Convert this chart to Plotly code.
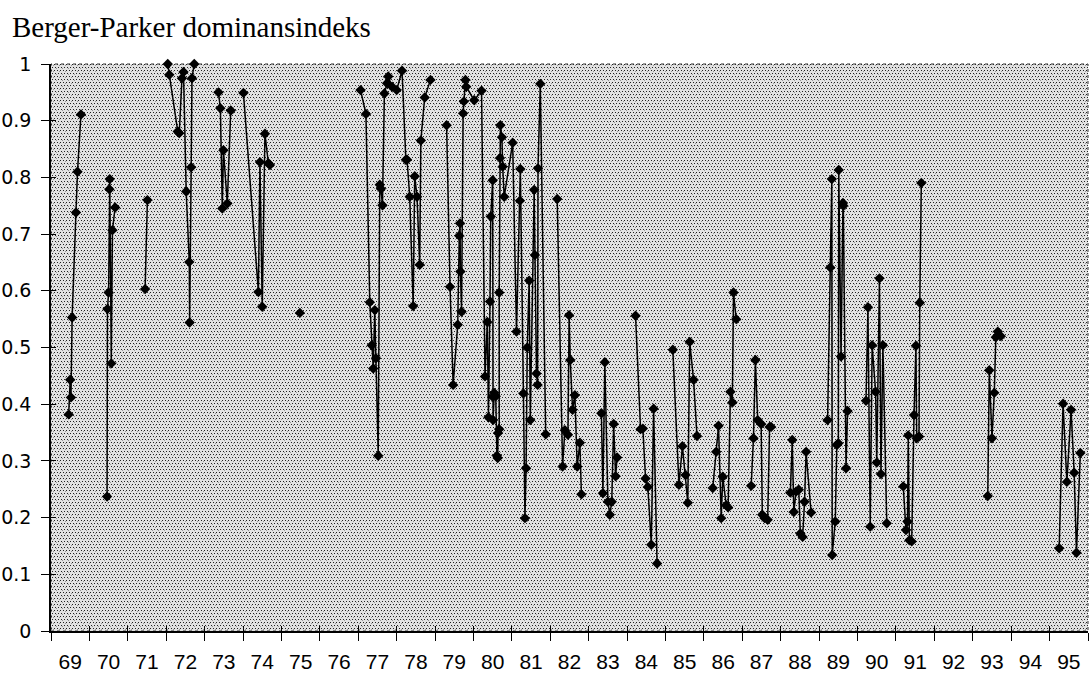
import base64
import plotly.graph_objects as go

# Berger-Parker dominance index per sample, grouped by season.
# x = position on the year axis (year + fraction of the year), y = index value.
x69 = [69.46, 69.50, 69.52, 69.55, 69.65, 69.69, 69.78]
y69 = [0.382, 0.443, 0.412, 0.553, 0.738, 0.810, 0.911]

x70 = [70.46, 70.47, 70.50, 70.52, 70.53, 70.57, 70.60, 70.67]
y70 = [0.237, 0.568, 0.597, 0.779, 0.797, 0.472, 0.707, 0.747]

x71 = [71.45, 71.51]
y71 = [0.603, 0.760]

x72 = [72.04, 72.08, 72.30, 72.34, 72.41, 72.45, 72.52, 72.60, 72.61, 72.65, 72.67, 72.73]
y72 = [1.000, 0.981, 0.881, 0.878, 0.975, 0.986, 0.775, 0.651, 0.544, 0.818, 0.975, 1.000]

x73 = [73.36, 73.41, 73.46, 73.49, 73.59, 73.68]
y73 = [0.950, 0.922, 0.745, 0.848, 0.754, 0.918]

x74 = [74.01, 74.40, 74.44, 74.50, 74.57, 74.66, 74.70]
y74 = [0.949, 0.598, 0.827, 0.572, 0.877, 0.825, 0.822]

x75 = [75.48]
y75 = [0.561]

x77 = [77.06, 77.20, 77.30, 77.35, 77.39, 77.43, 77.46, 77.52, 77.56, 77.59,
       77.63, 77.68, 77.75, 77.78, 77.88, 78.00, 78.14, 78.24, 78.27, 78.34,
       78.43, 78.47, 78.53, 78.60, 78.63, 78.73, 78.88]
y77 = [0.954, 0.912, 0.580, 0.504, 0.463, 0.566, 0.481, 0.309, 0.787, 0.780,
       0.751, 0.948, 0.966, 0.978, 0.960, 0.954, 0.988, 0.831, 0.831, 0.766,
       0.573, 0.802, 0.766, 0.646, 0.865, 0.941, 0.972]

x79 = [79.30, 79.39, 79.47, 79.59, 79.63, 79.65, 79.66, 79.69, 79.73, 79.75,
       79.79, 79.81, 80.02, 80.21, 80.30, 80.36, 80.39, 80.43, 80.45, 80.50,
       80.50, 80.51, 80.54, 80.58, 80.61, 80.63, 80.64, 80.67, 80.67, 80.69,
       80.70, 80.74, 80.76, 80.80, 81.02, 81.12, 81.21, 81.22, 81.30, 81.34,
       81.37, 81.40, 81.45, 81.48, 81.58, 81.60, 81.64, 81.67, 81.68, 81.74,
       81.88]
y79 = [0.892, 0.607, 0.434, 0.540, 0.697, 0.719, 0.634, 0.563, 0.913, 0.934,
       0.972, 0.960, 0.936, 0.953, 0.449, 0.545, 0.377, 0.581, 0.731, 0.795,
       0.413, 0.372, 0.420, 0.414, 0.309, 0.305, 0.349, 0.356, 0.597, 0.834,
       0.892, 0.871, 0.819, 0.766, 0.861, 0.528, 0.759, 0.815, 0.419, 0.199,
       0.287, 0.500, 0.618, 0.372, 0.778, 0.663, 0.454, 0.434, 0.816, 0.965,
       0.347]

x82 = [82.18, 82.32, 82.38, 82.46, 82.49, 82.52, 82.58, 82.64, 82.70, 82.77, 82.81]
y82 = [0.762, 0.290, 0.354, 0.346, 0.557, 0.478, 0.390, 0.416, 0.290, 0.332, 0.241]

x83 = [83.33, 83.37, 83.42, 83.50, 83.55, 83.60, 83.65, 83.70, 83.74]
y83 = [0.384, 0.243, 0.474, 0.228, 0.205, 0.228, 0.365, 0.273, 0.306]

x84 = [84.22, 84.35, 84.41, 84.48, 84.54, 84.63, 84.69, 84.78]
y84 = [0.556, 0.356, 0.357, 0.269, 0.254, 0.152, 0.392, 0.119]

x85 = [85.19, 85.35, 85.44, 85.52, 85.58, 85.63, 85.73, 85.82]
y85 = [0.496, 0.258, 0.326, 0.275, 0.226, 0.510, 0.443, 0.344]

x86 = [86.23, 86.32, 86.38, 86.45, 86.49, 86.58, 86.63, 86.69, 86.74, 86.77, 86.84]
y86 = [0.252, 0.316, 0.362, 0.199, 0.272, 0.222, 0.218, 0.422, 0.403, 0.597, 0.550]

x87 = [87.23, 87.29, 87.34, 87.40, 87.49, 87.52, 87.58, 87.66, 87.71, 87.75]
y87 = [0.256, 0.340, 0.478, 0.372, 0.365, 0.205, 0.199, 0.196, 0.360, 0.360]

x88 = [88.25, 88.30, 88.34, 88.40, 88.47, 88.51, 88.57, 88.62, 88.66, 88.79]
y88 = [0.244, 0.337, 0.210, 0.246, 0.249, 0.172, 0.166, 0.228, 0.316, 0.209]

x89 = [89.22, 89.29, 89.33, 89.34, 89.42, 89.46, 89.50, 89.51, 89.57, 89.62, 89.63, 89.70, 89.74]
y89 = [0.372, 0.641, 0.797, 0.134, 0.193, 0.328, 0.331, 0.813, 0.484, 0.755, 0.750, 0.287, 0.388]

x90 = [90.22, 90.27, 90.33, 90.38, 90.47, 90.50, 90.57, 90.61, 90.66, 90.76]
y90 = [0.406, 0.571, 0.184, 0.504, 0.422, 0.297, 0.622, 0.277, 0.504, 0.190]

x91 = [91.19, 91.26, 91.30, 91.32, 91.35, 91.41, 91.47, 91.52, 91.54, 91.60, 91.62, 91.66]
y91 = [0.255, 0.178, 0.193, 0.345, 0.160, 0.158, 0.381, 0.503, 0.340, 0.343, 0.579, 0.790]

x93 = [93.39, 93.43, 93.50, 93.56, 93.60, 93.65, 93.73]
y93 = [0.238, 0.460, 0.340, 0.420, 0.518, 0.528, 0.520]

x95 = [95.25, 95.35, 95.45, 95.56, 95.64, 95.70, 95.80]
y95 = [0.146, 0.401, 0.263, 0.390, 0.279, 0.138, 0.314]

years = list(range(69, 96))
y_ticks = [i / 10 for i in range(11)]
y_tick_text = ["0"] + [f"0.{i}" for i in range(1, 10)] + ["1"]

seasons = [
    (x69, y69), (x70, y70), (x71, y71), (x72, y72), (x73, y73), (x74, y74),
    (x75, y75), (x77, y77), (x79, y79), (x82, y82), (x83, y83), (x84, y84),
    (x85, y85), (x86, y86), (x87, y87), (x88, y88), (x89, y89), (x90, y90),
    (x91, y91), (x93, y93), (x95, y95),
]

# One polyline, broken between seasons
xs, ys = [], []
for sx, sy in seasons:
    xs.extend(sx + [None])
    ys.extend(sy + [None])

W, H = 1089, 674
M = dict(l=51, r=1, t=64, b=43)
pw, ph = W - M["l"] - M["r"], H - M["t"] - M["b"]

# Stippled plot-area fill (staggered 3 px dot grid)
svg = (
    f"<svg xmlns='http://www.w3.org/2000/svg' width='{pw}' height='{ph}' shape-rendering='crispEdges'>"
    "<defs><pattern id='p' width='6' height='6' patternUnits='userSpaceOnUse'>"
    "<rect width='6' height='6' fill='#e2e2e2'/>"
    "<rect x='0' y='0' width='1' height='1' fill='#222222'/>"
    "<rect x='3' y='0' width='1' height='1' fill='#222222'/>"
    "<rect x='1' y='3' width='1' height='1' fill='#222222'/>"
    "<rect x='4' y='3' width='1' height='1' fill='#222222'/>"
    "<rect x='2' y='1' width='1' height='1' fill='#959595'/>"
    "<rect x='5' y='4' width='1' height='1' fill='#959595'/>"
    "</pattern></defs><rect width='100%' height='100%' fill='url(#p)'/></svg>"
)
bg_uri = "data:image/svg+xml;base64," + base64.b64encode(svg.encode()).decode()

fig = go.Figure()
fig.add_trace(go.Scatter(
    x=xs, y=ys, mode="lines+markers", connectgaps=False,
    line=dict(color="black", width=1.5),
    marker=dict(symbol="diamond", size=8, color="black"),
    cliponaxis=False, showlegend=False,
))
# Companion axes carry the inner halves of the crossing tick marks
fig.add_trace(go.Scatter(x=[None], y=[None], xaxis="x2", yaxis="y2",
                         showlegend=False, hoverinfo="skip"))

tick_font = dict(family="Liberation Sans Narrow, Arial Narrow, Liberation Sans, Arial", size=21, color="black")
ylab_font = dict(family="DejaVu Sans, Liberation Sans, Arial", size=19, color="black")

fig.update_layout(
    width=W, height=H, margin=M,
    paper_bgcolor="white", plot_bgcolor="#d0d0d0",
    title=dict(text="Berger-Parker dominansindeks", x=12 / W, xanchor="left",
               y=1 - 27 / H, yanchor="middle",
               font=dict(family="Liberation Serif, Times New Roman, serif", size=29, color="black")),
    xaxis=dict(
        range=[69, 96], tickmode="array", automargin=False,
        tickvals=[yr + 0.5 for yr in years], ticktext=[str(yr) for yr in years],
        ticks="outside", ticklen=11, tickcolor="rgba(0,0,0,0)",
        tickfont=tick_font, showgrid=False, zeroline=False,
        showline=True, linecolor="black", linewidth=1.5,
        minor=dict(tickmode="array", tickvals=list(range(69, 97)), ticks="outside",
                   ticklen=8, tickwidth=1, tickcolor="black", showgrid=False),
    ),
    xaxis2=dict(
        range=[69, 96], overlaying="x", anchor="y2", side="bottom", automargin=False,
        tickmode="array", tickvals=list(range(69, 97)), ticks="inside",
        ticklen=5, tickwidth=1, tickcolor="black", showticklabels=False,
        showgrid=False, zeroline=False, showline=False,
    ),
    yaxis=dict(
        range=[0, 1], tickmode="array", tickvals=y_ticks, ticktext=y_tick_text,
        ticks="outside", ticklen=8, tickwidth=1, tickcolor="black", automargin=False,
        ticklabelstandoff=6, tickfont=ylab_font,
        showgrid=False, zeroline=False,
        showline=True, linecolor="black", linewidth=1.5,
    ),
    yaxis2=dict(
        range=[0, 1], overlaying="y", anchor="x2", side="left", automargin=False,
        tickmode="array", tickvals=y_ticks, ticks="inside", ticklen=5,
        tickwidth=1, tickcolor="black", showticklabels=False,
        showgrid=False, zeroline=False, showline=False,
    ),
    images=[dict(source=bg_uri, xref="paper", yref="paper", x=0, y=1,
                 sizex=1, sizey=1, sizing="stretch", xanchor="left",
                 yanchor="top", layer="below")],
    shapes=[dict(type="rect", xref="paper", yref="paper", x0=0, x1=1, y0=0, y1=1,
                 line=dict(color="#333333", width=1, dash="dot"), layer="below")],
)

fig.write_html("out.html")
